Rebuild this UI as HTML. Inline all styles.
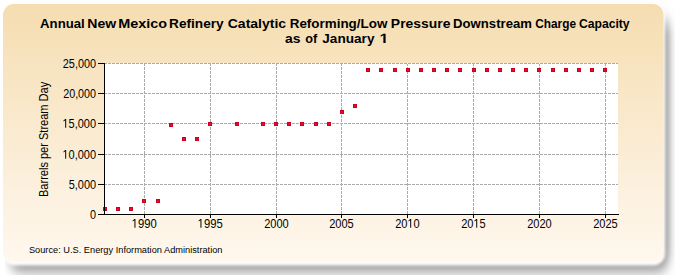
<!DOCTYPE html>
<html><head><meta charset="utf-8"><style>
html,body{margin:0;padding:0;background:#fff;width:675px;height:275px;overflow:hidden}
svg{display:block}
text{font-family:"Liberation Sans",sans-serif;fill:#000} path{fill:#000}
</style></head><body>
<svg width="675" height="275" viewBox="0 0 675 275">
<defs>
<linearGradient id="bg" x1="0" y1="0" x2="0" y2="1">
<stop offset="0" stop-color="#F5DDB0"/>
<stop offset="0.7" stop-color="#FCF0DD"/>
<stop offset="1" stop-color="#FFF8EE"/>
</linearGradient>
<filter id="sh" filterUnits="userSpaceOnUse" x="-20" y="-20" width="715" height="315"><feGaussianBlur stdDeviation="4.76 7.74"/></filter>
<filter id="glow" filterUnits="userSpaceOnUse" x="-20" y="-20" width="715" height="315"><feGaussianBlur stdDeviation="1.65"/></filter>
<clipPath id="shclip"><rect x="5" y="-20" width="700" height="320"/></clipPath>
<filter id="soft" x="-5%" y="-5%" width="110%" height="110%"><feGaussianBlur stdDeviation="0.6"/></filter>
</defs>
<g clip-path="url(#shclip)"><rect x="10" y="18" width="658.2" height="251.5" rx="12" ry="12" fill="#787878" filter="url(#sh)"/></g>
<rect x="3" y="4" width="662.3" height="261.6" rx="12" ry="12" fill="#fff" filter="url(#glow)"/>
<rect x="3" y="4" width="660.5" height="258" rx="11" ry="11" fill="url(#bg)" filter="url(#soft)"/>
<rect x="105" y="63" width="513" height="151" fill="#fff"/>
<g stroke="#ABABAB" stroke-width="1" stroke-dasharray="3 1" stroke-dashoffset="1" shape-rendering="crispEdges"><line x1="105" y1="63.5" x2="618" y2="63.5"/><line x1="105" y1="93.5" x2="618" y2="93.5"/><line x1="105" y1="123.5" x2="618" y2="123.5"/><line x1="105" y1="154.5" x2="618" y2="154.5"/><line x1="105" y1="184.5" x2="618" y2="184.5"/><line x1="144.5" y1="64" x2="144.5" y2="214"/><line x1="210.5" y1="64" x2="210.5" y2="214"/><line x1="276.5" y1="64" x2="276.5" y2="214"/><line x1="341.5" y1="64" x2="341.5" y2="214"/><line x1="407.5" y1="64" x2="407.5" y2="214"/><line x1="473.5" y1="64" x2="473.5" y2="214"/><line x1="539.5" y1="64" x2="539.5" y2="214"/><line x1="605.5" y1="64" x2="605.5" y2="214"/></g>
<g shape-rendering="crispEdges"><rect x="103" y="207" width="4" height="4" fill="#CC0020"/><rect x="104" y="208" width="2" height="2" fill="#EC0A2A"/><rect x="116" y="207" width="4" height="4" fill="#CC0020"/><rect x="117" y="208" width="2" height="2" fill="#EC0A2A"/><rect x="129" y="207" width="4" height="4" fill="#CC0020"/><rect x="130" y="208" width="2" height="2" fill="#EC0A2A"/><rect x="142" y="199" width="4" height="4" fill="#CC0020"/><rect x="143" y="200" width="2" height="2" fill="#EC0A2A"/><rect x="156" y="199" width="4" height="4" fill="#CC0020"/><rect x="157" y="200" width="2" height="2" fill="#EC0A2A"/><rect x="169" y="123" width="4" height="4" fill="#CC0020"/><rect x="170" y="124" width="2" height="2" fill="#EC0A2A"/><rect x="182" y="137" width="4" height="4" fill="#CC0020"/><rect x="183" y="138" width="2" height="2" fill="#EC0A2A"/><rect x="195" y="137" width="4" height="4" fill="#CC0020"/><rect x="196" y="138" width="2" height="2" fill="#EC0A2A"/><rect x="208" y="122" width="4" height="4" fill="#CC0020"/><rect x="209" y="123" width="2" height="2" fill="#EC0A2A"/><rect x="235" y="122" width="4" height="4" fill="#CC0020"/><rect x="236" y="123" width="2" height="2" fill="#EC0A2A"/><rect x="261" y="122" width="4" height="4" fill="#CC0020"/><rect x="262" y="123" width="2" height="2" fill="#EC0A2A"/><rect x="274" y="122" width="4" height="4" fill="#CC0020"/><rect x="275" y="123" width="2" height="2" fill="#EC0A2A"/><rect x="287" y="122" width="4" height="4" fill="#CC0020"/><rect x="288" y="123" width="2" height="2" fill="#EC0A2A"/><rect x="300" y="122" width="4" height="4" fill="#CC0020"/><rect x="301" y="123" width="2" height="2" fill="#EC0A2A"/><rect x="314" y="122" width="4" height="4" fill="#CC0020"/><rect x="315" y="123" width="2" height="2" fill="#EC0A2A"/><rect x="327" y="122" width="4" height="4" fill="#CC0020"/><rect x="328" y="123" width="2" height="2" fill="#EC0A2A"/><rect x="340" y="110" width="4" height="4" fill="#CC0020"/><rect x="341" y="111" width="2" height="2" fill="#EC0A2A"/><rect x="353" y="104" width="4" height="4" fill="#CC0020"/><rect x="354" y="105" width="2" height="2" fill="#EC0A2A"/><rect x="366" y="68" width="4" height="4" fill="#CC0020"/><rect x="367" y="69" width="2" height="2" fill="#EC0A2A"/><rect x="379" y="68" width="4" height="4" fill="#CC0020"/><rect x="380" y="69" width="2" height="2" fill="#EC0A2A"/><rect x="393" y="68" width="4" height="4" fill="#CC0020"/><rect x="394" y="69" width="2" height="2" fill="#EC0A2A"/><rect x="406" y="68" width="4" height="4" fill="#CC0020"/><rect x="407" y="69" width="2" height="2" fill="#EC0A2A"/><rect x="419" y="68" width="4" height="4" fill="#CC0020"/><rect x="420" y="69" width="2" height="2" fill="#EC0A2A"/><rect x="432" y="68" width="4" height="4" fill="#CC0020"/><rect x="433" y="69" width="2" height="2" fill="#EC0A2A"/><rect x="445" y="68" width="4" height="4" fill="#CC0020"/><rect x="446" y="69" width="2" height="2" fill="#EC0A2A"/><rect x="458" y="68" width="4" height="4" fill="#CC0020"/><rect x="459" y="69" width="2" height="2" fill="#EC0A2A"/><rect x="472" y="68" width="4" height="4" fill="#CC0020"/><rect x="473" y="69" width="2" height="2" fill="#EC0A2A"/><rect x="485" y="68" width="4" height="4" fill="#CC0020"/><rect x="486" y="69" width="2" height="2" fill="#EC0A2A"/><rect x="498" y="68" width="4" height="4" fill="#CC0020"/><rect x="499" y="69" width="2" height="2" fill="#EC0A2A"/><rect x="511" y="68" width="4" height="4" fill="#CC0020"/><rect x="512" y="69" width="2" height="2" fill="#EC0A2A"/><rect x="524" y="68" width="4" height="4" fill="#CC0020"/><rect x="525" y="69" width="2" height="2" fill="#EC0A2A"/><rect x="537" y="68" width="4" height="4" fill="#CC0020"/><rect x="538" y="69" width="2" height="2" fill="#EC0A2A"/><rect x="551" y="68" width="4" height="4" fill="#CC0020"/><rect x="552" y="69" width="2" height="2" fill="#EC0A2A"/><rect x="564" y="68" width="4" height="4" fill="#CC0020"/><rect x="565" y="69" width="2" height="2" fill="#EC0A2A"/><rect x="577" y="68" width="4" height="4" fill="#CC0020"/><rect x="578" y="69" width="2" height="2" fill="#EC0A2A"/><rect x="590" y="68" width="4" height="4" fill="#CC0020"/><rect x="591" y="69" width="2" height="2" fill="#EC0A2A"/><rect x="603" y="68" width="4" height="4" fill="#CC0020"/><rect x="604" y="69" width="2" height="2" fill="#EC0A2A"/></g>
<g stroke="#000" stroke-width="1" shape-rendering="crispEdges">
<line x1="104.5" y1="63" x2="104.5" y2="215"/>
<line x1="98" y1="214.5" x2="619" y2="214.5"/>
<line x1="98" y1="63.5" x2="105" y2="63.5"/><line x1="98" y1="93.5" x2="105" y2="93.5"/><line x1="98" y1="123.5" x2="105" y2="123.5"/><line x1="98" y1="154.5" x2="105" y2="154.5"/><line x1="98" y1="184.5" x2="105" y2="184.5"/><line x1="98" y1="214.5" x2="105" y2="214.5"/><line x1="144.5" y1="214" x2="144.5" y2="218"/><line x1="210.5" y1="214" x2="210.5" y2="218"/><line x1="276.5" y1="214" x2="276.5" y2="218"/><line x1="341.5" y1="214" x2="341.5" y2="218"/><line x1="407.5" y1="214" x2="407.5" y2="218"/><line x1="473.5" y1="214" x2="473.5" y2="218"/><line x1="539.5" y1="214" x2="539.5" y2="218"/><line x1="605.5" y1="214" x2="605.5" y2="218"/>
</g>
<g transform="translate(62.751,67.85) scale(0.8592,1)"><text font-size="12.7">25,000</text></g><g transform="translate(63.158,97.85) scale(0.8486,1)"><text font-size="12.7">20,000</text></g><g transform="translate(62.440,127.85) scale(0.8673,1)"><text font-size="12.7"> 5,000</text><path transform="translate(0.000,0) scale(0.00620,-0.00620)" d="M515 0H696V1409H530L197 1180V1010L515 1237Z"/></g><g transform="translate(62.440,158.85) scale(0.8673,1)"><text font-size="12.7"> 0,000</text><path transform="translate(0.000,0) scale(0.00620,-0.00620)" d="M515 0H696V1409H530L197 1180V1010L515 1237Z"/></g><g transform="translate(68.661,188.85) scale(0.8643,1)"><text font-size="12.7">5,000</text></g><g transform="translate(90.075,218.85) scale(0.8565,1)"><text font-size="12.7">0</text></g><g transform="translate(131.613,227.85) scale(0.8894,1)"><text font-size="12.7"> 990</text><path transform="translate(0.000,0) scale(0.00620,-0.00620)" d="M515 0H696V1409H530L197 1180V1010L515 1237Z"/></g><g transform="translate(197.612,227.85) scale(0.8906,1)"><text font-size="12.7"> 995</text><path transform="translate(0.000,0) scale(0.00620,-0.00620)" d="M515 0H696V1409H530L197 1180V1010L515 1237Z"/></g><g transform="translate(264.144,227.85) scale(0.8703,1)"><text font-size="12.7">2000</text></g><g transform="translate(329.143,227.85) scale(0.8715,1)"><text font-size="12.7">2005</text></g><g transform="translate(395.144,227.85) scale(0.8703,1)"><text font-size="12.7">20 0</text><path transform="translate(14.126,0) scale(0.00620,-0.00620)" d="M515 0H696V1409H530L197 1180V1010L515 1237Z"/></g><g transform="translate(461.143,227.85) scale(0.8715,1)"><text font-size="12.7">20 5</text><path transform="translate(14.126,0) scale(0.00620,-0.00620)" d="M515 0H696V1409H530L197 1180V1010L515 1237Z"/></g><g transform="translate(527.144,227.85) scale(0.8703,1)"><text font-size="12.7">2020</text></g><g transform="translate(593.143,227.85) scale(0.8715,1)"><text font-size="12.7">2025</text></g><g transform="translate(40.071,28) scale(0.9713,1)"><text font-weight="bold" font-size="13.6">Annual</text></g><g transform="translate(87.259,28) scale(1.0340,1)"><text font-weight="bold" font-size="13.6">New</text></g><g transform="translate(118.135,28) scale(1.0612,1)"><text font-weight="bold" font-size="13.6">Mexico</text></g><g transform="translate(169.087,28) scale(1.0030,1)"><text font-weight="bold" font-size="13.6">Refinery</text></g><g transform="translate(227.725,28) scale(1.0317,1)"><text font-weight="bold" font-size="13.6">Catalytic</text></g><g transform="translate(289.701,28) scale(0.9879,1)"><text font-weight="bold" font-size="13.6">Reforming/Low</text></g><g transform="translate(390.870,28) scale(1.0221,1)"><text font-weight="bold" font-size="13.6">Pressure</text></g><g transform="translate(453.121,28) scale(0.9666,1)"><text font-weight="bold" font-size="13.6">Downstream</text></g><g transform="translate(535.214,28) scale(0.8705,1)"><text font-weight="bold" font-size="13.6">Charge</text></g><g transform="translate(578.900,28) scale(0.8955,1)"><text font-weight="bold" font-size="13.6">Capacity</text></g><g transform="translate(285.092,43.0) scale(1.0232,1)"><text font-weight="bold" font-size="13.6">as</text></g><g transform="translate(305.305,43.0) scale(0.9326,1)"><text font-weight="bold" font-size="13.6">of</text></g><g transform="translate(322.294,43.0) scale(1.0003,1)"><text font-weight="bold" font-size="13.6">January</text></g><g transform="translate(379.592,43.0) scale(1.1921,1)"><text font-weight="bold" font-size="13.6"> </text><path transform="translate(0.000,0) scale(0.00664,-0.00664)" d="M478 0H759V1409H493L140 1180V959L478 1170Z"/></g><text font-size="12.2" transform="translate(47.6,197.004) rotate(-90) scale(0.9043,1)">Barrels per Stream Day</text><g transform="translate(28.880,252.8) scale(0.9535,1)"><text font-size="9.7">Source: U.S. Energy Information Administration</text></g>
</svg>
</body></html>
